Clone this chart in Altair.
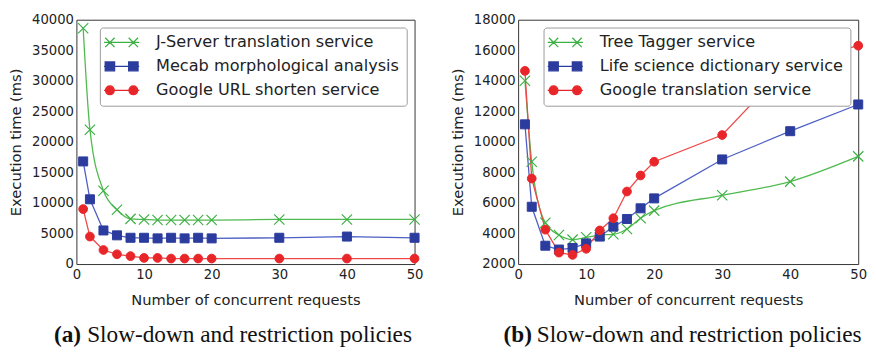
import altair as alt
import pandas as pd

# ---------------- data ----------------
x_vals = [1, 2, 4, 6, 8, 10, 12, 14, 16, 18, 20, 30, 40, 50]

left_names = ["J-Server translation service", "Mecab morphological analysis", "Google URL shorten service"]
jserver = [38600, 22000, 12000, 8900, 7400, 7300, 7200, 7200, 7200, 7200, 7200, 7300, 7300, 7300]
mecab = [16800, 10600, 5500, 4700, 4300, 4300, 4200, 4300, 4200, 4300, 4200, 4300, 4500, 4300]
google_url = [9000, 4500, 2300, 1600, 1300, 1000, 1000, 900, 900, 900, 900, 900, 900, 900]

right_names = ["Tree Tagger service", "Life science dictionary service", "Google translation service"]
tree_tagger = [14000, 8700, 4700, 3900, 3600, 3750, 3900, 3950, 4300, 5000, 5500, 6500, 7400, 9050]
life_science = [11150, 5750, 3200, 2950, 3050, 3350, 3800, 4450, 4950, 5650, 6300, 8850, 10700, 12450]
google_trans = [14650, 7600, 4250, 2750, 2600, 3000, 4200, 5000, 6750, 7800, 8700, 10450, 15150, 16300]

left_yticks = list(range(0, 40001, 5000))
right_yticks = list(range(2000, 18001, 2000))
x_ticks = [0, 10, 20, 30, 40, 50]

captions_bold = ["(a)", "(b)"]
caption_text = "Slow-down and restriction policies"
x_title = "Number of concurrent requests"
y_title = "Execution time (ms)"

# ---------------- styles ----------------
marker_colors = ["#3cb043", "#2b3c9e", "#e8262a"]
line_colors = ["#4fba4f", "#4d5fc4", "#f04848"]
CROSS = "M-1,-1L1,1M-1,1L1,-1"
marker_shapes = [CROSS, "square", "circle"]
marker_sizes = [110, 85, 80]
marker_filled = [False, True, True]

# legend symbol = line segment + two markers (unit = sqrt(size)/2 px)
LEG_CROSS = ("M-1.83,0H4.17 M-1.63,-0.8L-0.03,0.8M-1.63,0.8L-0.03,-0.8 "
             "M2.37,-0.8L3.97,0.8M2.37,0.8L3.97,-0.8")
LEG_SQUARE = ("M-1.83,0H4.17 M-1.63,-0.75H-0.03V0.75H-1.63Z "
              "M2.37,-0.75H3.97V0.75H2.37Z")
LEG_CIRCLE = ("M-1.83,0H4.17 M-1.58,0A0.75,0.75 0 1,0 -0.08,0A0.75,0.75 0 1,0 -1.58,0Z "
              "M2.42,0A0.75,0.75 0 1,0 3.92,0A0.75,0.75 0 1,0 2.42,0Z")
legend_shapes = [LEG_CROSS, LEG_SQUARE, LEG_CIRCLE]

H = 250
CAP_SIZE = 23.8


def make_df(names, series):
    rows = []
    for name, vals in zip(names, series):
        for xv, yv in zip(x_vals, vals):
            rows.append({"x": xv, "y": yv, "series": name})
    return pd.DataFrame(rows)


def panel(names, series, ydom, yticks, width, legx, cap_bold, cap_x):
    df = make_df(names, series)
    base = alt.Chart(df)
    xenc = alt.X("x:Q", scale=alt.Scale(domain=[0, 50], nice=False),
                 axis=alt.Axis(values=x_ticks, title=x_title, format="d"))
    yenc = alt.Y("y:Q", scale=alt.Scale(domain=ydom, nice=False, zero=False),
                 axis=alt.Axis(values=yticks, title=y_title, format="d"))
    layers = []
    for i, name in enumerate(names):
        sub = base.transform_filter(alt.datum.series == name)
        layers.append(
            sub.mark_line(color=line_colors[i], strokeWidth=1.3,
                          interpolate="monotone" if i == 0 else "linear")
            .encode(x=xenc, y=yenc)
        )
    for i, name in enumerate(names):
        sub = base.transform_filter(alt.datum.series == name)
        if marker_filled[i]:
            m = sub.mark_point(shape=marker_shapes[i], size=marker_sizes[i], filled=True,
                               fill=marker_colors[i], stroke=marker_colors[i],
                               strokeWidth=1, opacity=1)
        else:
            m = sub.mark_point(shape=marker_shapes[i], size=marker_sizes[i], filled=False,
                               stroke=marker_colors[i], strokeWidth=1.2, opacity=1)
        layers.append(m.encode(x=xenc, y=yenc))
    leg = alt.Legend(orient="none", legendX=legx, legendY=8, title=None,
                     symbolSize=144, symbolStrokeWidth=1.3, symbolOpacity=1,
                     labelOffset=34, labelFontSize=16.5, labelFont="DejaVu Sans",
                     labelColor="#222", padding=7, rowPadding=7.5,
                     fillColor="white", strokeColor="#9a9a9a", cornerRadius=3,
                     labelLimit=400)
    layers.append(
        base.mark_point(opacity=0, filled=True).encode(
            shape=alt.Shape("series:N", scale=alt.Scale(domain=names, range=legend_shapes), legend=leg),
            fill=alt.Fill("series:N", scale=alt.Scale(domain=names, range=marker_colors), legend=leg),
            stroke=alt.Stroke("series:N", scale=alt.Scale(domain=names, range=marker_colors), legend=leg),
        )
    )
    cap1 = alt.Chart(pd.DataFrame({"t": [cap_bold]})).mark_text(
        font="Liberation Serif", fontSize=CAP_SIZE, fontWeight="bold", align="left",
        baseline="alphabetic", color="#111").encode(
        text="t:N", x=alt.value(cap_x), y=alt.value(H + 80))
    cap2 = alt.Chart(pd.DataFrame({"t": [caption_text]})).mark_text(
        font="Liberation Serif", fontSize=CAP_SIZE, align="left",
        baseline="alphabetic", color="#111").encode(
        text="t:N", x=alt.value(cap_x + 34), y=alt.value(H + 80))
    layers += [cap1, cap2]
    return alt.layer(*layers).properties(width=width, height=H)


left = panel(left_names, [jserver, mecab, google_url], [0, 40000], left_yticks, 346, 24,
             captions_bold[0], -23)
right = panel(right_names, [tree_tagger, life_science, google_trans], [2000, 18000], right_yticks,
              348, 26, captions_bold[1], -15)

chart = alt.hconcat(left, right, spacing=26).resolve_scale(
    shape="independent", fill="independent", stroke="independent"
).resolve_legend(
    shape="independent", fill="independent", stroke="independent"
).properties(
    padding={"left": 0, "top": 0, "right": 0, "bottom": 0}
).configure_view(
    stroke="#333", strokeWidth=1
).configure_axis(
    labelFont="DejaVu Sans", labelFontSize=13.5, labelColor="#222",
    titleFont="DejaVu Sans", titleFontSize=15, titleFontWeight="normal", titleColor="#222",
    grid=False, domain=False, ticks=False, labelPadding=4, labelFlush=False,
    labelOverlap=False
).configure_axisX(
    titlePadding=12
).configure_axisY(
    labelPadding=3, titlePadding=8
)

chart.save("out.html", embed_options={"renderer": "svg", "actions": False})
